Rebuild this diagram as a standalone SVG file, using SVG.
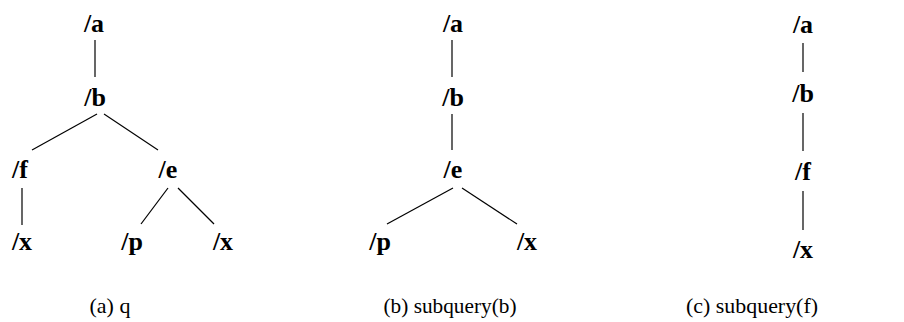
<svg xmlns="http://www.w3.org/2000/svg" width="904" height="322" viewBox="0 0 904 322">
<style>
.n{font-family:"Liberation Serif","Times New Roman",serif;font-weight:bold;font-size:26px;fill:#000;text-anchor:middle}
.cap{font-family:"Liberation Serif","Times New Roman",serif;font-size:22px;fill:#000;text-anchor:middle}
.e line{stroke:#000;stroke-width:1.2}
</style>
<rect width="904" height="322" fill="#fff"/>
<g class="e" id="connectors">
<line x1="95" y1="40" x2="95" y2="77"/>
<line x1="97" y1="114" x2="32" y2="150"/>
<line x1="104" y1="114" x2="158" y2="150"/>
<line x1="22" y1="188" x2="22" y2="225"/>
<line x1="168" y1="188" x2="141" y2="224"/>
<line x1="178" y1="188" x2="214" y2="224"/>
<line x1="452" y1="40" x2="452" y2="77"/>
<line x1="452" y1="114" x2="452" y2="150"/>
<line x1="453" y1="188" x2="387" y2="224"/>
<line x1="462" y1="188" x2="517" y2="224"/>
<line x1="803" y1="43" x2="803" y2="72"/>
<line x1="803" y1="113" x2="803" y2="151"/>
<line x1="803" y1="191" x2="803" y2="230"/>
</g>
<g id="qa"><text class="n" x="94" y="32">/a</text></g>
<g id="qb"><text class="n" x="95" y="106">/b</text></g>
<g id="qf"><text class="n" x="20" y="178">/f</text></g>
<g id="qe"><text class="n" x="168" y="178">/e</text></g>
<g id="qx1"><text class="n" x="22" y="250">/x</text></g>
<g id="qp"><text class="n" x="132" y="250">/p</text></g>
<g id="qx2"><text class="n" x="223" y="250">/x</text></g>
<g id="ba"><text class="n" x="453" y="32">/a</text></g>
<g id="bb"><text class="n" x="453" y="106">/b</text></g>
<g id="be"><text class="n" x="453" y="178">/e</text></g>
<g id="bp"><text class="n" x="380" y="250">/p</text></g>
<g id="bx"><text class="n" x="527" y="250">/x</text></g>
<g id="ca"><text class="n" x="803" y="33">/a</text></g>
<g id="cb"><text class="n" x="803" y="102">/b</text></g>
<g id="cf"><text class="n" x="803" y="180">/f</text></g>
<g id="cx"><text class="n" x="803" y="258">/x</text></g>
<text class="cap" x="110" y="313">(a) q</text>
<text class="cap" x="450" y="313" textLength="133" lengthAdjust="spacingAndGlyphs">(b) subquery(b)</text>
<text class="cap" x="752" y="313" textLength="132" lengthAdjust="spacingAndGlyphs">(c) subquery(f)</text>
</svg>
